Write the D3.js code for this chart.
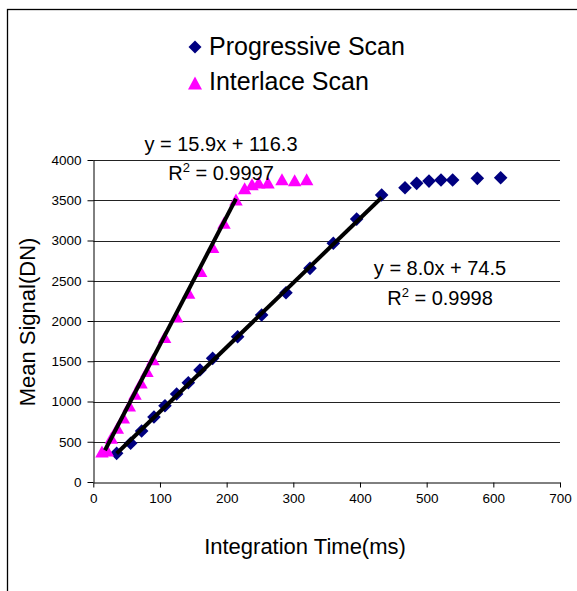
<!DOCTYPE html>
<html>
<head>
<meta charset="utf-8">
<script src="https://cdn.jsdelivr.net/npm/d3@7"></script>
<style>
  html, body { margin: 0; padding: 0; background: #fff; }
  svg { display: block; font-family: "Liberation Sans", Arial, sans-serif; }
</style>
</head>
<body>
<svg id="chart" width="577" height="591"></svg>
<script>
// ---- data ----
const progX = [35, 56, 72.5, 91, 107.5, 125, 142.5, 160, 179, 216.5, 252.5, 289, 325, 360, 395, 432.5, 467.5, 485, 503.5, 521.5, 539, 576, 611];
const progY = [356, 481, 633, 807, 948, 1093, 1233, 1391, 1536, 1805, 2074, 2351, 2654, 2965, 3266, 3565, 3655, 3710, 3738, 3751, 3751, 3772, 3779];
const interX = [13, 21, 27, 36, 45, 54, 62.5, 71.5, 80.5, 89.5, 107, 125, 143, 161, 179, 196, 214, 227, 238, 248, 262, 283, 302, 320];
const interY = [380, 390, 550, 675, 800, 950, 1095, 1235, 1380, 1525, 1800, 2055, 2350, 2620, 2920, 3220, 3510, 3650, 3700, 3720, 3720, 3760, 3750, 3760];
const seriesNames = ["Progressive Scan", "Interlace Scan"];
const fitSlope = [8.0, 15.9];
const fitIntercept = [74.5, 116.3];
const fitRange = [[35, 432.5], [17.5, 214]];
const fitEq = ["y = 8.0x + 74.5", "y = 15.9x + 116.3"];
const fitR2 = ["0.9998", "0.9997"];
const xTicks = [0, 100, 200, 300, 400, 500, 600, 700];
const yTicks = [0, 500, 1000, 1500, 2000, 2500, 3000, 3500, 4000];

const svg = d3.select("#chart");
const x = d3.scaleLinear().domain([0, 700]).range([93.3, 560]);
const y = d3.scaleLinear().domain([0, 4000]).range([482, 160]);

// outer frame (right and bottom fall outside the window)
svg.append("rect").attr("x", 7.5).attr("y", 9.5).attr("width", 620).attr("height", 620)
  .attr("fill", "none").attr("stroke", "#000").attr("stroke-width", 1.3);

// gridlines
svg.append("g").selectAll("line").data(yTicks.filter(d => d > 0)).join("line")
  .attr("x1", x(0)).attr("x2", x(700)).attr("y1", d => Math.round(y(d)) + 0.5).attr("y2", d => Math.round(y(d)) + 0.5)
  .attr("stroke", "#222").attr("stroke-width", 1);

// axes
const fmt = d3.format("d");
const xAxis = svg.append("g").attr("transform", `translate(0,${Math.round(y(0)) + 0.5})`)
  .call(d3.axisBottom(x).tickValues(xTicks).tickFormat(fmt).tickSize(5).tickSizeOuter(0).tickPadding(6));
const yAxis = svg.append("g").attr("transform", `translate(${Math.round(x(0)) + 0.5},0)`)
  .call(d3.axisLeft(y).tickValues(yTicks).tickFormat(fmt).tickSize(6).tickSizeOuter(0).tickPadding(6));
[xAxis, yAxis].forEach(g => {
  g.select(".domain").attr("stroke", "#000");
  g.selectAll(".tick line").attr("stroke", "#000");
  g.selectAll(".tick text").attr("fill", "#000").style("font-size", "13.5px")
    .style("font-family", '"Liberation Sans", Arial, sans-serif');
});

// markers
function diamond(s) { return `M0,${-s}L${s},0L0,${s}L${-s},0Z`; }
function triangle(w, h) { return `M0,${-h/2}L${w/2},${h/2}L${-w/2},${h/2}Z`; }

svg.append("g").selectAll("path").data(d3.zip(progX, progY)).join("path")
  .attr("d", diamond(6.8))
  .attr("transform", d => `translate(${x(d[0])},${y(d[1])})`)
  .attr("fill", "#000080");

svg.append("g").selectAll("path").data(d3.zip(interX, interY)).join("path")
  .attr("d", triangle(13.5, 12))
  .attr("transform", d => `translate(${x(d[0])},${y(d[1])})`)
  .attr("fill", "#FF00FF");

// trendlines
fitSlope.forEach((m, i) => {
  const [a, b] = fitRange[i];
  svg.append("line")
    .attr("x1", x(a)).attr("y1", y(m * a + fitIntercept[i]))
    .attr("x2", x(b)).attr("y2", y(m * b + fitIntercept[i]))
    .attr("stroke", "#000").attr("stroke-width", 4);
});

// equation labels
const eqPos = [{cx: 440, y1: 275, y2: 305}, {cx: 221, y1: 151, y2: 180}];
eqPos.forEach((p, i) => {
  svg.append("text").attr("x", p.cx).attr("y", p.y1).attr("text-anchor", "middle")
    .style("font-size", "20px").attr("fill", "#000").text(fitEq[i]);
  const t = svg.append("text").attr("x", p.cx).attr("y", p.y2).attr("text-anchor", "middle")
    .style("font-size", "20px").attr("fill", "#000");
  t.append("tspan").text("R");
  t.append("tspan").attr("dy", -8).style("font-size", "13px").text("2");
  t.append("tspan").attr("dy", 8).text(" = " + fitR2[i]);
});

// legend
const leg = svg.append("g");
leg.append("path").attr("d", diamond(6.5)).attr("transform", "translate(195,47)").attr("fill", "#000080");
leg.append("text").attr("x", 209).attr("y", 55).style("font-size", "25px").attr("fill", "#000").text(seriesNames[0]);
leg.append("path").attr("d", triangle(14, 13)).attr("transform", "translate(195,83)").attr("fill", "#FF00FF");
leg.append("text").attr("x", 209).attr("y", 90).style("font-size", "25px").attr("fill", "#000").text(seriesNames[1]);

// axis titles
svg.append("text").attr("x", 305).attr("y", 554).attr("text-anchor", "middle")
  .style("font-size", "22px").attr("fill", "#000").text("Integration Time(ms)");
svg.append("text").attr("transform", "translate(35,322) rotate(-90)").attr("text-anchor", "middle")
  .style("font-size", "22px").attr("fill", "#000").text("Mean Signal(DN)");
</script>
</body>
</html>
